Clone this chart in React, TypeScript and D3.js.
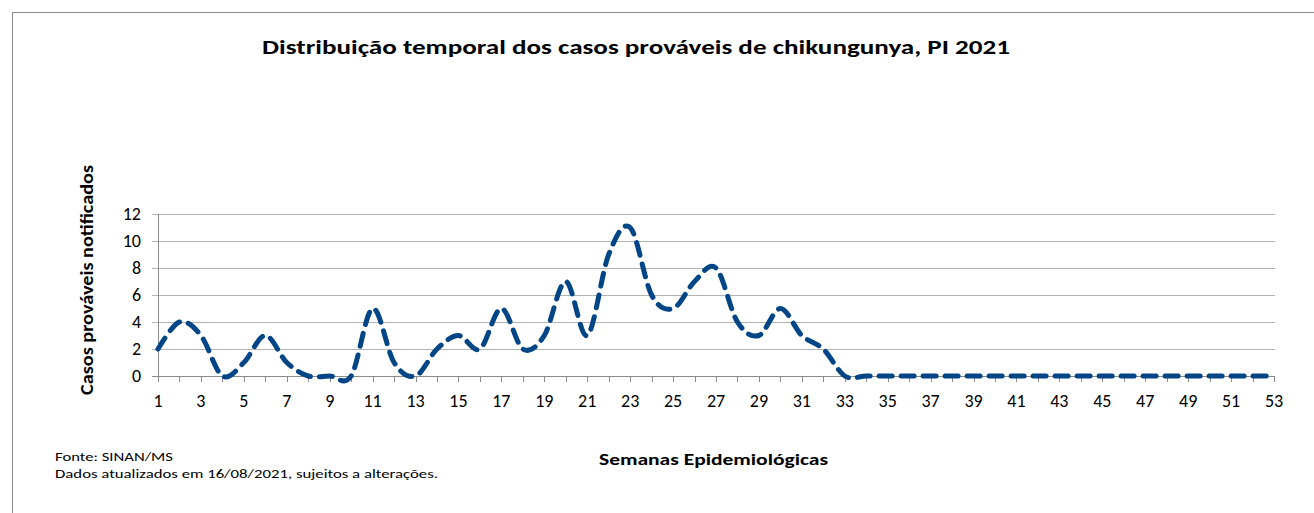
import * as d3 from 'd3';

// semanas epidemiológicas 1..53
const weeks: number[] = d3.range(1, 54);
// casos prováveis por semana
const cases: number[] = [
  2, 4, 3, 0, 1, 3, 1, 0, 0, 0,
  5, 1, 0, 2, 3, 2, 5, 2, 3, 7,
  3, 9, 11, 6, 5, 7, 8, 4, 3, 5,
  3, 2, 0, 0, 0, 0, 0, 0, 0, 0,
  0, 0, 0, 0, 0, 0, 0, 0, 0, 0,
  0, 0, 0,
];
const yTicks: number[] = [0, 2, 4, 6, 8, 10, 12];
const xTickLabels: number[] = weeks.filter(w => w % 2 === 1);

const title = 'Distribuição temporal dos casos prováveis de chikungunya, PI 2021';
const yTitle = 'Casos prováveis notificados';
const xTitle = 'Semanas Epidemiológicas';
const footer = ['Fonte: SINAN/MS', 'Dados atualizados em 16/08/2021, sujeitos a alterações.'];

const W = 1314;
const H = 513;
const font = "Carlito, Calibri, 'Open Sans', sans-serif";

export default function App() {
  const x = d3.scaleLinear().domain([1, 53]).range([158, 1274]);
  const y = d3.scaleLinear().domain([0, 12]).range([376, 214]);

  const line = d3.line<number>()
    .x((d, i) => x(weeks[i]))
    .y(d => y(d))
    .curve(d3.curveCatmullRom.alpha(0));

  const gridColor = '#b3b3b3';
  const axisColor = '#8c8c8c';

  return (
    <svg width={W} height={H} style={{ position: 'absolute', left: 0, top: 0, background: '#fff' }}>
      {/* chart frame */}
      <line x1={12} x2={W} y1={12.5} y2={12.5} stroke={axisColor} />
      <line x1={12.5} x2={12.5} y1={12} y2={H} stroke={axisColor} />

      <text x={636} y={54} textAnchor="middle" fontFamily={font} fontWeight="bold" fontSize={20}
        textLength={748} lengthAdjust="spacingAndGlyphs" fill="#000">{title}</text>

      {/* gridlines */}
      {yTicks.map(t => (
        <g key={t}>
          <line x1={x(1) - 6} x2={1275} y1={Math.round(y(t)) + 0.5} y2={Math.round(y(t)) + 0.5}
            stroke={t === 0 ? axisColor : gridColor} />
          <text x={141} y={y(t) + 6} textAnchor="end" fontFamily={font} fontSize={18} fill="#000">{t}</text>
        </g>
      ))}
      <line x1={158.5} x2={158.5} y1={y(12)} y2={y(0)} stroke={axisColor} />

      {/* x ticks */}
      {weeks.map(w => (
        <line key={w} x1={Math.round(x(w)) + 0.5} x2={Math.round(x(w)) + 0.5}
          y1={y(0)} y2={y(0) + 6} stroke={axisColor} />
      ))}
      {xTickLabels.map(w => (
        <text key={w} x={x(w)} y={407} textAnchor="middle" fontFamily={font} fontSize={18} fill="#000">{w}</text>
      ))}

      <path d={line(cases) ?? ''} fill="none" stroke="#004586" strokeWidth={5}
        strokeDasharray="13 9" strokeLinecap="round" strokeLinejoin="round" />

      <text transform="translate(93,280) rotate(-90)" textAnchor="middle" fontFamily={font}
        fontWeight="bold" fontSize={17} textLength={230} lengthAdjust="spacingAndGlyphs" fill="#000">{yTitle}</text>

      <text x={713.5} y={465} textAnchor="middle" fontFamily={font} fontWeight="bold" fontSize={16}
        textLength={229} lengthAdjust="spacingAndGlyphs" fill="#000">{xTitle}</text>

      <text x={55} y={461} fontFamily={font} fontSize={12.5} textLength={118}
        lengthAdjust="spacingAndGlyphs" fill="#000">{footer[0]}</text>
      <text x={55} y={478} fontFamily={font} fontSize={12.5} textLength={383}
        lengthAdjust="spacingAndGlyphs" fill="#000">{footer[1]}</text>
    </svg>
  );
}
